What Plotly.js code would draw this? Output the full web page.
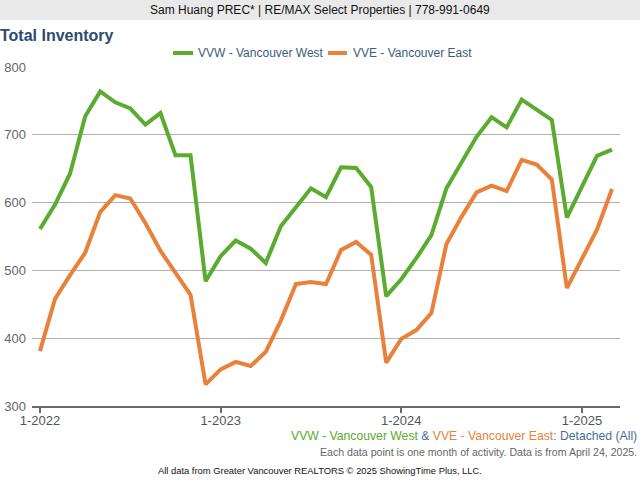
<!DOCTYPE html>
<html>
<head>
<meta charset="utf-8">
<script src="https://cdn.plot.ly/plotly-3.0.1.min.js"></script>
<style>html,body{margin:0;padding:0;background:#fff;}#chart{width:640px;height:480px;}</style>
</head>
<body>
<div id="chart"></div>
<script>
const months = [
  "1-2022","2-2022","3-2022","4-2022","5-2022","6-2022","7-2022","8-2022","9-2022","10-2022","11-2022","12-2022",
  "1-2023","2-2023","3-2023","4-2023","5-2023","6-2023","7-2023","8-2023","9-2023","10-2023","11-2023","12-2023",
  "1-2024","2-2024","3-2024","4-2024","5-2024","6-2024","7-2024","8-2024","9-2024","10-2024","11-2024","12-2024",
  "1-2025","2-2025","3-2025"
];
const vancouverWest = [
  561, 597, 643, 727, 764, 748, 739, 715, 732, 670, 670, 484,
  521, 544, 532, 511, 565, 593, 621, 608, 652, 651, 623, 462,
  487, 518, 552, 621, 660, 697, 726, 711, 752, 737, 722, 578,
  622, 669, 678
];
const vancouverEast = [
  381, 458, 493, 526, 586, 611, 606, 570, 529, 497, 464, 332,
  354, 365, 359, 380, 426, 480, 483, 480, 530, 542, 523, 364,
  399, 412, 437, 539, 579, 615, 625, 617, 663, 656, 634, 474,
  516, 560, 620
];
const yearTicks = ["1-2022","1-2023","1-2024","1-2025"];
const seriesNames = ["VVW - Vancouver West","VVE - Vancouver East"];

const GREEN = "#5aab2f", ORANGE = "#e8813a", NAVY = "#2b4b6d", BLUE = "#4a6d96";
const FONT = "Liberation Sans, Arial, Helvetica, sans-serif";

// layout geometry (pixels)
const L = 32, R = 20, T = 67, B = 74, W = 640, H = 480;
const pw = W - L - R, ph = H - T - B;
const px = x => (x - L) / pw;
const py = y => (H - B - y) / ph;

const traces = [
  {x: months, y: vancouverWest, name: seriesNames[0], type: "scatter", mode: "lines",
   line: {color: GREEN, width: 4}},
  {x: months, y: vancouverEast, name: seriesNames[1], type: "scatter", mode: "lines",
   line: {color: ORANGE, width: 4}}
];

const legendShapes = [
  {type: "line", xref: "paper", yref: "paper", x0: px(173), x1: px(193), y0: py(53), y1: py(53),
   line: {color: GREEN, width: 4}},
  {type: "line", xref: "paper", yref: "paper", x0: px(328), x1: px(347), y0: py(53), y1: py(53),
   line: {color: ORANGE, width: 4}}
];
const legendTexts = [
  {text: seriesNames[0], xref: "paper", yref: "paper", x: px(196), y: py(53), xanchor: "left",
   yanchor: "middle", showarrow: false, font: {size: 12, color: "#3d5a7a"}},
  {text: seriesNames[1], xref: "paper", yref: "paper", x: px(351), y: py(53), xanchor: "left",
   yanchor: "middle", showarrow: false, font: {size: 12, color: "#3d5a7a"}}
];

const layout = {
  width: W, height: H,
  margin: {l: L, r: R, t: T, b: B, pad: 0},
  paper_bgcolor: "#fff", plot_bgcolor: "#fff",
  font: {family: FONT, size: 12, color: "#555"},
  showlegend: false,
  title: {text: "<b>Total Inventory</b>", x: 0, xref: "container", xanchor: "left",
          y: 1 - 35 / H, yanchor: "middle", yref: "container", pad: {l: 0, t: 0, r: 0, b: 0},
          font: {size: 16, color: NAVY, family: FONT}},
  xaxis: {type: "category", range: [-0.53, months.length - 0.47],
          tickvals: yearTicks, ticktext: yearTicks,
          showgrid: false, zeroline: false,
          showline: true, linecolor: "#6a6a6a", linewidth: 2,
          ticks: "outside", ticklen: 5, tickwidth: 2, tickcolor: "#6a6a6a",
          ticklabelstandoff: -4,
          tickfont: {size: 13, color: "#555"}},
  yaxis: {range: [300, 800], tickvals: [300, 400, 500, 600, 700, 800],
          showgrid: true, gridcolor: "#b0b0b0", gridwidth: 1,
          zeroline: false, showline: false, ticks: "",
          ticklabelstandoff: 5,
          tickfont: {size: 13, color: "#666"}},
  shapes: [
    {type: "rect", xref: "paper", yref: "paper", x0: px(0), x1: px(640), y0: py(20), y1: py(0),
     fillcolor: "#e9e9e9", line: {width: 0}, layer: "below"}
  ].concat(legendShapes),
  annotations: [
    {text: "Sam Huang PREC* | RE/MAX Select Properties | 778-991-0649", xref: "paper", yref: "paper",
     x: px(320), y: py(10), xanchor: "center", yanchor: "middle", showarrow: false,
     font: {size: 12, color: "#111"}},
    {text: '<span style="color:' + GREEN + '">VVW - Vancouver West</span> & <span style="color:' + ORANGE +
           '">VVE - Vancouver East</span>: Detached (All)',
     xref: "paper", yref: "paper", x: px(639), y: py(436), xanchor: "right", yanchor: "middle",
     showarrow: false, font: {size: 12.2, color: BLUE}},
    {text: "Each data point is one month of activity. Data is from April 24, 2025.",
     xref: "paper", yref: "paper", x: px(639), y: py(452), xanchor: "right", yanchor: "middle",
     showarrow: false, font: {size: 10.6, color: "#666"}},
    {text: "All data from Greater Vancouver REALTORS © 2025 ShowingTime Plus, LLC.",
     xref: "paper", yref: "paper", x: px(320), y: py(470), xanchor: "center", yanchor: "middle",
     showarrow: false, font: {size: 9.4, color: "#111"}}
  ].concat(legendTexts)
};

Plotly.newPlot("chart", traces, layout, {displayModeBar: false, staticPlot: true});
</script>
</body>
</html>
